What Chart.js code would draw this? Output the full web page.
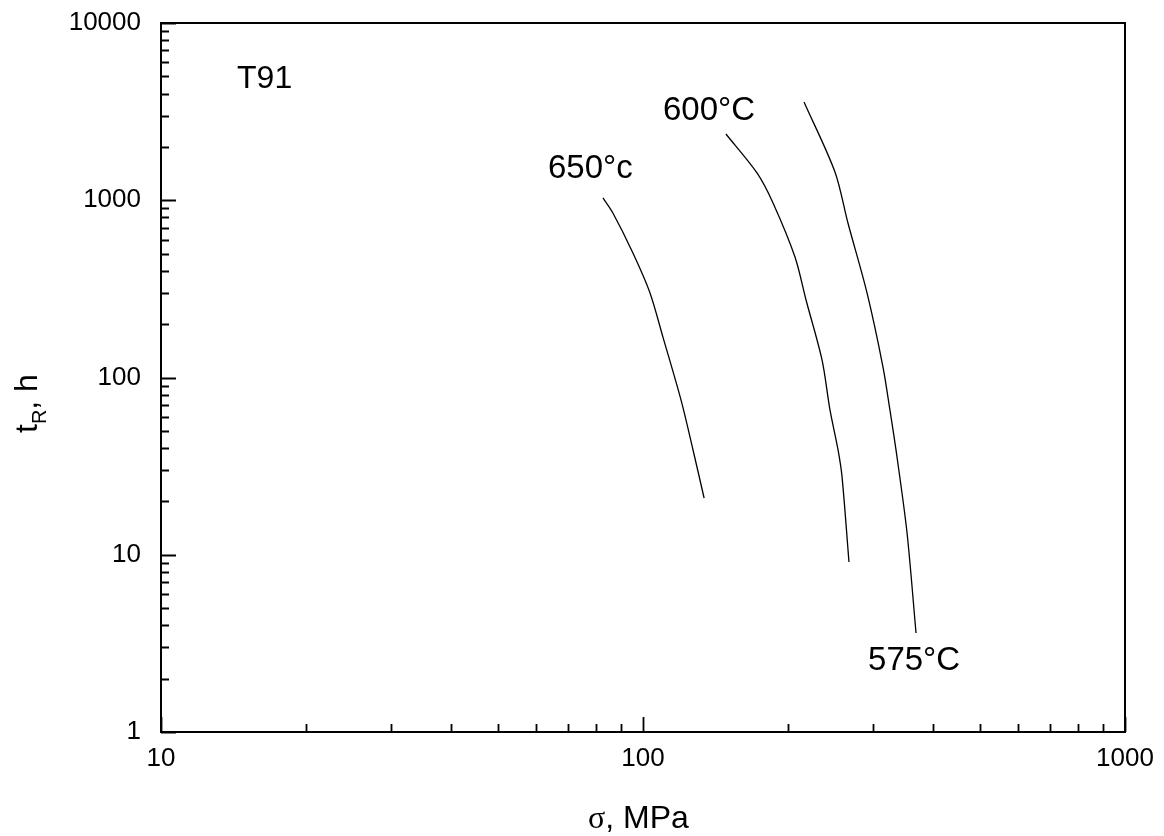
<!DOCTYPE html>
<html>
<head>
<meta charset="utf-8">
<script src="https://cdn.jsdelivr.net/npm/chart.js@4/dist/chart.umd.min.js"></script>
<style>
  html, body { margin: 0; padding: 0; background: #fff; }
  #wrap { width: 1164px; height: 836px; }
</style>
</head>
<body>
<div id="wrap"><canvas id="chart" width="1164" height="836"></canvas></div>
<script>
// rupture time vs stress, T91 steel
const sigma650 = [82.6, 86.6, 95.3, 103.4, 110, 119.9, 127, 133.9]
const tr650 = [1030, 847, 504, 300, 169, 74.7, 39, 20.9]

const sigma600 = [148.6, 172.4, 186.1, 206.7, 217.9, 235.2, 244.3, 253.9, 258.8, 267.5]
const tr600 = [2364, 1425, 965, 478, 273.6, 125.6, 65.6, 39, 27.5, 9.1]

const sigma575 = [215.8, 250.2, 266.2, 291.6, 314.7, 325.3, 336.5, 353, 368.5]
const tr575 = [3583, 1443, 744, 300, 114.6, 65.6, 35.6, 13.3, 3.62]

const xMajor = [10, 100, 1000]
const yMajor = [1, 10, 100, 1000, 10000]

const FONT = "Arial, 'Liberation Sans', sans-serif"

const toPoints = (xs, ys) => xs.map((x, i) => ({ x: x, y: ys[i] }))

const isMajor = (v, list) => list.some(m => Math.abs(v - m) < 1e-9 * m)

// text labels anchored in data space
const notes = [
  { text: "T91", x: 14.38, y: 4297, size: 32 },
  { text: "650°c", x: 63.5, y: 1335, size: 33 },
  { text: "600°C", x: 110, y: 2837, size: 33 },
  { text: "575°C", x: 293, y: 2.24, size: 33 }
]

const framePlugin = {
  id: "frame",
  afterDraw(chart) {
    const ctx = chart.ctx
    const { left, right, top, bottom } = chart.chartArea
    const xs = chart.scales.x
    const ys = chart.scales.y
    ctx.save()
    ctx.strokeStyle = "#000"
    ctx.lineWidth = 2
    ctx.strokeRect(left, top, right - left, bottom - top)

    // inward ticks, bottom + left only
    ctx.lineWidth = 1.8
    ctx.beginPath()
    for (let d = 10; d < 1000; d *= 10) {
      for (let k = 1; k <= 10; k++) {
        const v = d * k
        const px = Math.round(xs.getPixelForValue(v)) + 0.5
        const len = isMajor(v, xMajor) ? 15 : 8
        ctx.moveTo(px, bottom)
        ctx.lineTo(px, bottom - len)
      }
    }
    for (let d = 1; d < 10000; d *= 10) {
      for (let k = 1; k <= 10; k++) {
        const v = d * k
        const py = Math.round(ys.getPixelForValue(v)) + 0.5
        const len = isMajor(v, yMajor) ? 15 : 8
        ctx.moveTo(left, py)
        ctx.lineTo(left + len, py)
      }
    }
    ctx.stroke()

    // annotations
    ctx.fillStyle = "#000"
    ctx.textAlign = "left"
    ctx.textBaseline = "alphabetic"
    notes.forEach(n => {
      ctx.font = n.size + "px " + FONT
      ctx.fillText(n.text, xs.getPixelForValue(n.x), ys.getPixelForValue(n.y))
    })

    // x axis title: sigma, MPa
    let tx = 588
    const ty = 828
    ctx.font = "32px 'Liberation Serif', 'Times New Roman', serif"
    ctx.fillText("σ", tx, ty)
    tx += ctx.measureText("σ").width
    ctx.font = "32px " + FONT
    ctx.fillText(", MPa", tx, ty)

    // y axis title: t_R, h (rotated)
    ctx.translate(37, 433)
    ctx.rotate(-Math.PI / 2)
    let ox = 0
    ctx.font = "32px " + FONT
    ctx.fillText("t", ox, 0)
    ox += ctx.measureText("t").width
    ctx.font = "20px " + FONT
    ctx.fillText("R", ox, 9)
    ox += ctx.measureText("R").width
    ctx.font = "32px " + FONT
    ctx.fillText(", h", ox, 0)
    ctx.restore()
  }
}

const lineStyle = {
  borderColor: "#000",
  borderWidth: 1.3,
  pointRadius: 0,
  showLine: true,
  fill: false,
  tension: 0.3
}

new Chart(document.getElementById("chart"), {
  type: "scatter",
  data: {
    datasets: [
      Object.assign({ label: "650°C", data: toPoints(sigma650, tr650) }, lineStyle),
      Object.assign({ label: "600°C", data: toPoints(sigma600, tr600) }, lineStyle),
      Object.assign({ label: "575°C", data: toPoints(sigma575, tr575) }, lineStyle)
    ]
  },
  options: {
    responsive: false,
    animation: false,
    layout: { padding: { left: 0, top: 23, right: 39, bottom: 0 } },
    plugins: {
      legend: { display: false },
      tooltip: { enabled: false }
    },
    scales: {
      x: {
        type: "logarithmic",
        min: 10,
        max: 1000,
        grid: { display: false },
        border: { display: false },
        afterFit: s => { s.height = 104 },
        ticks: {
          autoSkip: false,
          maxRotation: 0,
          padding: 3,
          color: "#000",
          font: { family: FONT, size: 26 },
          callback: v => isMajor(v, xMajor) ? String(v) : ""
        }
      },
      y: {
        type: "logarithmic",
        min: 1,
        max: 10000,
        grid: { display: false },
        border: { display: false },
        afterFit: s => {
          s.width = 161
          s.paddingTop = 0
          s.paddingBottom = 0
        },
        ticks: {
          autoSkip: false,
          padding: 12,
          color: "#000",
          font: { family: FONT, size: 26 },
          callback: v => isMajor(v, yMajor) ? String(v) : ""
        }
      }
    }
  },
  plugins: [framePlugin]
})
</script>
</body>
</html>
